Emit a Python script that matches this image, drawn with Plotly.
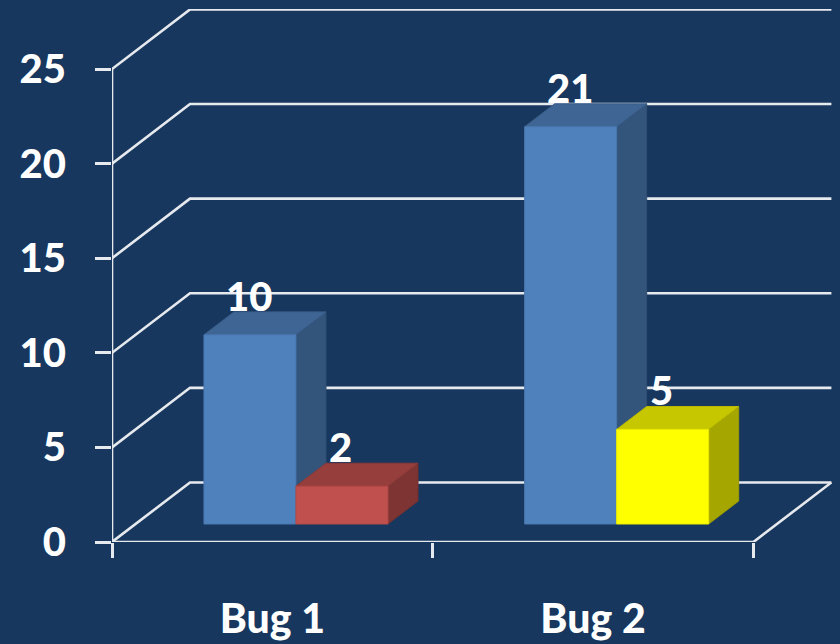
import plotly.graph_objects as go

categories = ["Bug 1", "Bug 2"]
first_values = [10, 21]
second_values = [2, 5]
first_colors = ["#4F81BD", "#4F81BD"]
second_colors = ["#C0504D", "#FFFF00"]
value_ticks = [0, 5, 10, 15, 20, 25]

BG = "#17375E"
GRID = "#E6E9EE"
FONT = "Lato"
WEIGHT = 900
PX_X, PX_Y = 320.7, 18.93            # pixels per category / per value unit
WALL_X, WALL_Y = 78 / PX_X, 59.6 / PX_Y  # depth of the floor
BAR_W = 92 / PX_X
GAP = 68.4 / PX_X
IN_F, DEP_F = 0.302, 0.385           # bar inset and bar depth, share of the floor depth


def shade(hex_c, f):
    r, g, b = (int(hex_c[i:i + 2], 16) for i in (1, 3, 5))
    return "#%02X%02X%02X" % (round(r * f), round(g * f), round(b * f))


fig = go.Figure()

# floor outline and walls
gx, gy = [], []
xmax = len(categories)
for v in value_ticks:
    gx += [0, WALL_X, xmax + WALL_X, None]
    gy += [v, v + WALL_Y, v + WALL_Y, None]
gx += [0, xmax, xmax + WALL_X, None, 0, 0]
gy += [0, 0, WALL_Y, None, 0, value_ticks[-1]]
fig.add_trace(go.Scatter(x=gx, y=gy, mode="lines", line=dict(color=GRID, width=2.6),
                         hoverinfo="skip", showlegend=False, cliponaxis=False))


def box(left, value, color):
    x0 = left + IN_F * WALL_X
    x1 = x0 + BAR_W
    y0 = IN_F * WALL_Y
    y1 = y0 + value
    dx, dy = DEP_F * WALL_X, DEP_F * WALL_Y
    side = shade(color, 0.65)
    top = shade(color, 0.78)
    faces = [
        ([x1, x1 + dx, x1 + dx, x1, x1], [y0, y0 + dy, y1 + dy, y1, y0], side),
        ([x0, x0 + dx, x1 + dx, x1, x0], [y1, y1 + dy, y1 + dy, y1, y1], top),
        ([x0, x1, x1, x0, x0], [y0, y0, y1, y1, y0], color),
    ]
    for fx, fy, c in faces:
        fig.add_trace(go.Scatter(x=fx, y=fy, mode="lines", fill="toself", fillcolor=c,
                                 line=dict(color=shade(c, 0.93), width=1),
                                 hoverinfo="skip", showlegend=False, cliponaxis=False))
    fig.add_annotation(x=(x0 + x1) / 2, y=y1, xref="x", yref="y", text=str(value),
                       showarrow=False, yshift=39, xshift=-1, yanchor="middle",
                       font=dict(family=FONT, size=40, color="white", weight=WEIGHT))


for i in range(len(categories)):
    box(i + GAP, first_values[i], first_colors[i])
    box(i + GAP + BAR_W, second_values[i], second_colors[i])

fig.update_layout(
    width=840, height=644, autosize=False,
    margin=dict(l=112, r=8, t=9, b=102, pad=0, autoexpand=False),
    paper_bgcolor=BG, plot_bgcolor=BG, showlegend=False,
    font=dict(family=FONT, color="white"),
    xaxis=dict(range=[0, 720 / PX_X], showgrid=False, zeroline=False, showline=False,
               automargin=False,
               tickmode="array", tickvals=[i + 0.5 for i in range(len(categories))],
               ticktext=list(categories), ticks="",
               tickfont=dict(family=FONT, size=41, color="white", weight=WEIGHT),
               ticklabelstandoff=49,
               minor=dict(tickmode="array", tickvals=list(range(xmax + 1)), ticks="outside",
                          ticklen=15, tickwidth=2.6, tickcolor=GRID, showgrid=False)),
    yaxis=dict(range=[0, 533.3 / PX_Y], showgrid=False, zeroline=False, showline=False,
               automargin=False,
               tickmode="array", tickvals=value_ticks,
               ticktext=[str(v) for v in value_ticks], ticks="outside", ticklen=16,
               tickwidth=2.6, tickcolor=GRID,
               tickfont=dict(family=FONT, size=40, color="white", weight=WEIGHT),
               ticklabelstandoff=21),
)

fig.write_html("out.html", config=dict(displayModeBar=False),
               post_script="document.body.style.margin='0';document.documentElement.style.overflow='hidden';")
